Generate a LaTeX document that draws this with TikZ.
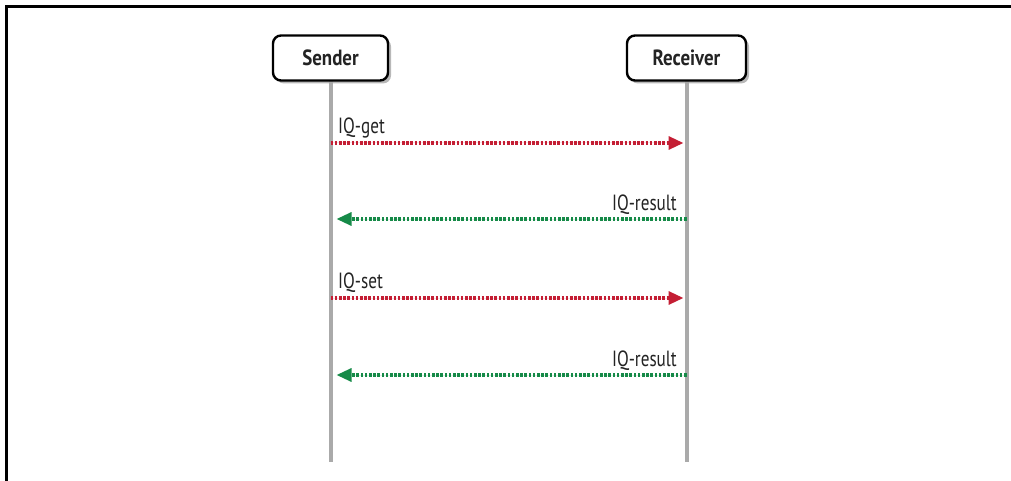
\documentclass[tikz,border=0pt]{standalone}
\usepackage{fontspec}
\usetikzlibrary{arrows.meta,shadows}
\newfontfamily\msgfont[FakeStretch=0.78]{PT Sans}
\newfontfamily\actorfont[FakeStretch=0.86]{PT Sans Bold}
\definecolor{reqred}{RGB}{196,30,52}
\definecolor{resgreen}{RGB}{22,138,72}
\definecolor{lifegray}{RGB}{170,170,170}
\definecolor{inkdark}{RGB}{35,35,35}
\begin{document}
\begin{tikzpicture}[x=1pt,y=-1pt,
  actor/.style={draw=black, line width=2.4pt, rounded corners=8pt, fill=white,
    minimum height=45pt, inner sep=0pt, font=\actorfont\fontsize{22}{24}\selectfont,
    text=inkdark,
    drop shadow={shadow xshift=3pt, shadow yshift=-3pt, fill=black!35, opacity=0.8}},
  life/.style={draw=lifegray, line width=4pt},
  msg/.style={line width=3.2pt, dash pattern=on 2.6pt off 1.6pt,
    -{Triangle[length=15pt,width=13pt]}},
  req/.style={msg, draw=reqred, fill=reqred, shorten >=3pt},
  res/.style={msg, draw=resgreen, fill=resgreen, shorten >=6pt},
  lbl/.style={font=\msgfont\fontsize{22}{24}\selectfont, text=inkdark, inner sep=0pt}
]
\useasboundingbox (0,0) rectangle (1011,481);
% page frame (left and top edges)
\draw[black, line width=2.4pt] (6.5,481) -- (6.5,6.5) -- (1011,6.5);

% lifelines
\coordinate (sb) at (330.5,462);
\coordinate (rb) at (686.5,462);
\draw[life] (330.5,60) -- (sb);
\draw[life] (686.5,60) -- (rb);

% participants
\node[actor, minimum width=115pt] (s) at (330.5,58) {Sender};
\node[actor, minimum width=119pt] (r) at (686.5,58) {Receiver};

% message anchor points on the lifelines
\coordinate (s1) at (330.5,143); \coordinate (r1) at (686.5,143);
\coordinate (s2) at (330.5,219); \coordinate (r2) at (686.5,219);
\coordinate (s3) at (330.5,298); \coordinate (r3) at (686.5,298);
\coordinate (s4) at (330.5,375); \coordinate (r4) at (686.5,375);

% messages
\draw[req] (s1) -- (r1);
\node[lbl, anchor=base west] (l1) at (338,134) {IQ-get};
\draw[res] (r2) -- (s2);
\node[lbl, anchor=base east] (l2) at (677,211) {IQ-result};
\draw[req] (s3) -- (r3);
\node[lbl, anchor=base west] (l3) at (338,288) {IQ-set};
\draw[res] (r4) -- (s4);
\node[lbl, anchor=base east] (l4) at (677,366) {IQ-result};
\end{tikzpicture}
\end{document}
